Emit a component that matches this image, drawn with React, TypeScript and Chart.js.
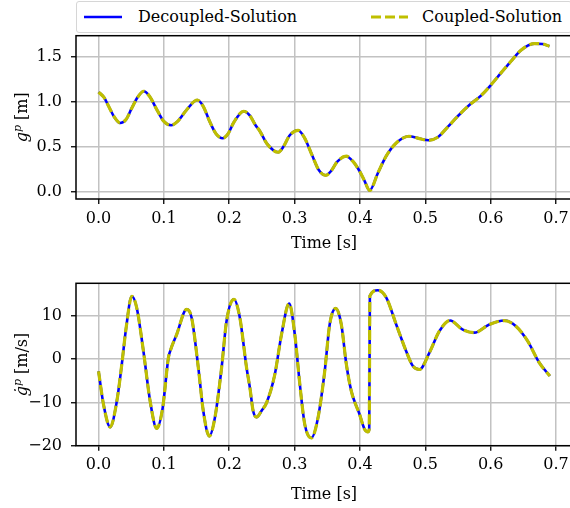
import React, { useEffect, useRef } from "react";
import { Chart, registerables } from "chart.js";

Chart.register(...registerables);

// ---- Data ----
const seriesNames = ["Decoupled-Solution", "Coupled-Solution"];

const tTop = [
  0.0, 0.008, 0.016, 0.024, 0.033, 0.042, 0.051, 0.06, 0.069, 0.078, 0.09, 0.1, 0.111, 0.121, 0.135,
  0.151, 0.16, 0.17, 0.18, 0.19, 0.198, 0.207, 0.2224, 0.2316, 0.24, 0.247, 0.258, 0.2748, 0.283,
  0.292, 0.3053, 0.315, 0.327, 0.337, 0.3476, 0.356, 0.365, 0.379, 0.39, 0.3995, 0.407, 0.4148,
  0.4275, 0.44, 0.4556, 0.4748, 0.491, 0.5053, 0.519, 0.5344, 0.5496, 0.5675, 0.5853, 0.6, 0.6159,
  0.6311, 0.6464, 0.6667, 0.6794, 0.69,
];
const gTop = [
  1.105, 1.05, 0.94, 0.83, 0.763, 0.8, 0.93, 1.05, 1.115, 1.06, 0.9, 0.78, 0.737, 0.78, 0.91,
  1.018, 0.95, 0.78, 0.64, 0.593, 0.64, 0.77, 0.893, 0.844, 0.74, 0.67, 0.53, 0.437, 0.5,
  0.62, 0.681, 0.6, 0.4, 0.24, 0.181, 0.23, 0.33, 0.393, 0.33, 0.226, 0.12, 0.012,
  0.207, 0.393, 0.54, 0.615, 0.589, 0.57, 0.604, 0.719, 0.837, 0.963, 1.067, 1.181, 1.319,
  1.448, 1.57, 1.644, 1.641, 1.615,
];

const tBot = [
  0.0, 0.0076, 0.0178, 0.028, 0.0356, 0.0422, 0.0509, 0.0585, 0.0687, 0.0789, 0.089, 0.0982, 0.1069,
  0.1095, 0.1196, 0.1349, 0.1425, 0.1527, 0.1603, 0.1695, 0.1781, 0.1883, 0.1959, 0.2071, 0.2163,
  0.2265, 0.2316, 0.2366, 0.2418, 0.25, 0.2571, 0.2698, 0.28, 0.2917, 0.3003, 0.308, 0.3156, 0.3258,
  0.3359, 0.3461, 0.3537, 0.3629, 0.3715, 0.3792, 0.3868, 0.3995, 0.4071, 0.4122, 0.4142, 0.4152,
  0.4275, 0.4403, 0.4555, 0.4708, 0.481, 0.4911, 0.5064, 0.5217, 0.5379, 0.5573, 0.5751, 0.598,
  0.6209, 0.6387, 0.6565, 0.6743, 0.6906,
];
const vBot = [
  -2.8, -10.5, -15.7, -9.7, -1.2, 7.2, 14.5, 11.8, 1.8, -9.7, -16.0, -11.2, 0.3,
  1.8, 5.7, 11.5, 9.5, -2.0, -12.0, -17.8, -13.5, -2.0, 8.8, 13.8, 9.5,
  -2.0, -6.6, -12.0, -13.4, -11.8, -10.1, -3.5, 5.7, 12.8, 5.7, -5.8, -15.1, -18.2,
  -13.5, -2.8, 8.0, 11.7, 8.0, -1.2, -7.4, -12.8, -16.2, -16.8, -16.2, 14.6,
  15.9, 14.2, 8.0, 1.8, -1.6, -2.4, 1.5, 6.5, 8.9, 6.8, 6.1, 8.0,
  8.9, 7.6, 4.2, -0.8, -3.9,
];

const xTicks = [0, 0.1, 0.2, 0.3, 0.4, 0.5, 0.6, 0.7];
const yTicksTop = [0, 0.5, 1.0, 1.5];
const yTicksBot = [-20, -10, 0, 10];
const xLabel = "Time [s]";

const FONT = '"DejaVu Serif", serif';
const FS = 16;
const BLUE = "#0000ff";
const YELLOW = "#bfbf00";

type Part = { text: string; italic?: boolean; sup?: boolean };

function yTitlePlugin(parts: Part[], cx: number) {
  return {
    id: "ytitle",
    afterDraw(chart: any) {
      const ctx = chart.ctx as CanvasRenderingContext2D;
      const a = chart.chartArea;
      const cy = (a.top + a.bottom) / 2;
      const fontOf = (p: Part) => `${p.italic ? "italic " : ""}${p.sup ? Math.round(FS * 0.7) : FS}px ${FONT}`;
      ctx.save();
      let total = 0;
      const widths = parts.map((p) => {
        ctx.font = fontOf(p);
        const w = ctx.measureText(p.text).width;
        total += w;
        return w;
      });
      ctx.translate(cx, cy);
      ctx.rotate(-Math.PI / 2);
      ctx.fillStyle = "#000";
      ctx.textBaseline = "alphabetic";
      ctx.textAlign = "left";
      let x = -total / 2;
      const base = FS * 0.33;
      parts.forEach((p, i) => {
        ctx.font = fontOf(p);
        ctx.fillText(p.text, x, p.sup ? base - FS * 0.38 : base);
        x += widths[i];
      });
      ctx.restore();
    },
  };
}

const framePlugin = {
  id: "frame",
  afterDatasetsDraw(chart: any) {
    const ctx = chart.ctx as CanvasRenderingContext2D;
    const a = chart.chartArea;
    ctx.save();
    ctx.strokeStyle = "#000";
    ctx.lineWidth = 1.5;
    ctx.strokeRect(a.left, a.top, a.right - a.left, a.bottom - a.top);
    ctx.restore();
  },
};

type Cfg = {
  t: number[];
  v: number[];
  yMin: number;
  yMax: number;
  yTicks: number[];
  yFmt: (v: number) => string;
  parts: Part[];
  padTop: number;
  xAxisHeight: number;
  titlePadBottom: number;
};

function makeChart(canvas: HTMLCanvasElement, c: Cfg) {
  const pts = c.t.map((x, i) => ({ x, y: c.v[i] }));
  const common = {
    pointRadius: 0,
    fill: false,
    cubicInterpolationMode: "monotone" as const,
  };
  const gridCfg = { color: "#c2c2c2", lineWidth: 1.5, tickColor: "#000", tickLength: 5, tickWidth: 1.3 };
  const tickFont = { family: FONT, size: FS };
  return new Chart(canvas, {
    type: "line",
    data: {
      datasets: [
        { label: seriesNames[1], data: pts, borderColor: YELLOW, borderWidth: 3.2, borderDash: [10, 4], order: 0, ...common },
        { label: seriesNames[0], data: pts, borderColor: BLUE, borderWidth: 2.6, order: 1, ...common },
      ],
    },
    options: {
      responsive: false,
      animation: false,
      events: [],
      layout: { padding: { top: c.padTop, right: 28, bottom: 0, left: 0 } },
      plugins: { legend: { display: false }, tooltip: { enabled: false } },
      scales: {
        x: {
          type: "linear",
          min: -0.0345,
          max: 0.7245,
          afterBuildTicks: (s: any) => {
            s.ticks = xTicks.map((value) => ({ value }));
          },
          afterFit: (s: any) => {
            s.height = c.xAxisHeight;
          },
          ticks: {
            callback: (val: any) => Number(val).toFixed(1),
            font: tickFont,
            color: "#000",
            padding: 5,
            autoSkip: false,
            maxRotation: 0,
            minRotation: 0,
          },
          grid: gridCfg,
          border: { display: false },
          title: {
            display: true,
            text: xLabel,
            color: "#000",
            font: { family: FONT, size: FS, lineHeight: 1.2 },
            padding: { top: 0, bottom: c.titlePadBottom },
          },
        },
        y: {
          type: "linear",
          min: c.yMin,
          max: c.yMax,
          afterBuildTicks: (s: any) => {
            s.ticks = c.yTicks.map((value) => ({ value }));
          },
          afterFit: (s: any) => {
            s.width = 76;
          },
          ticks: {
            callback: (val: any) => c.yFmt(Number(val)),
            font: tickFont,
            color: "#000",
            padding: 9,
            autoSkip: false,
          },
          grid: gridCfg,
          border: { display: false },
        },
      },
    } as any,
    plugins: [framePlugin, yTitlePlugin(c.parts, 22)],
  });
}

export default function App() {
  const c1 = useRef<HTMLCanvasElement>(null);
  const c2 = useRef<HTMLCanvasElement>(null);

  useEffect(() => {
    const ch1 = makeChart(c1.current!, {
      t: tTop,
      v: gTop,
      yMin: -0.0825,
      yMax: 1.7325,
      yTicks: yTicksTop,
      yFmt: (v) => v.toFixed(1),
      parts: [{ text: "g", italic: true }, { text: "p", italic: true, sup: true }, { text: " [m]" }],
      padTop: 35.7,
      xAxisHeight: 61,
      titlePadBottom: 7,
    });
    const ch2 = makeChart(c2.current!, {
      t: tBot,
      v: vBot,
      yMin: -20,
      yMax: 17.5,
      yTicks: yTicksBot,
      yFmt: (v) => String(Math.round(v)).replace("-", "\u2212"),
      parts: [{ text: "\u0121", italic: true }, { text: "p", italic: true, sup: true }, { text: " [m/s]" }],
      padTop: 33.3,
      xAxisHeight: 62.3,
      titlePadBottom: 4,
    });
    return () => {
      ch1.destroy();
      ch2.destroy();
    };
  }, []);

  return (
    <div style={{ position: "absolute", left: 0, top: 0, width: 570, height: 508, overflow: "hidden", background: "#fff" }}>
      <canvas ref={c1} width={600} height={260} style={{ position: "absolute", left: 0, top: 0 }} />
      <canvas ref={c2} width={600} height={258} style={{ position: "absolute", left: 0, top: 250 }} />
      <div
        style={{
          position: "absolute",
          left: 76,
          top: 1,
          width: 494,
          height: 30,
          border: "1.3px solid #d6d6d6",
          borderRadius: 3,
          fontFamily: FONT,
          fontSize: FS,
          color: "#000",
          background: "#fff",
        }}
      >
        <svg width={40} height={10} style={{ position: "absolute", left: 7, top: 10 }}>
          <line x1={0} y1={5} x2={38} y2={5} stroke={BLUE} strokeWidth={2.6} />
        </svg>
        <span style={{ position: "absolute", left: 61, top: 4, whiteSpace: "nowrap", lineHeight: "22px" }}>{seriesNames[0]}</span>
        <svg width={40} height={10} style={{ position: "absolute", left: 294, top: 10 }}>
          <line x1={0} y1={5} x2={37} y2={5} stroke={YELLOW} strokeWidth={3} strokeDasharray="10 4" />
        </svg>
        <span style={{ position: "absolute", left: 345, top: 4, whiteSpace: "nowrap", lineHeight: "22px" }}>{seriesNames[1]}</span>
      </div>
    </div>
  );
}
